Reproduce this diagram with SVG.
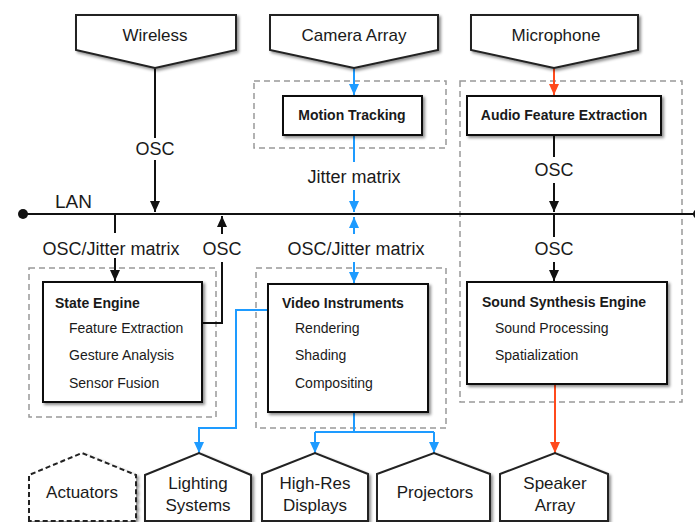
<svg xmlns="http://www.w3.org/2000/svg" width="695" height="522" viewBox="0 0 695 522">
<style>
text{font-family:"Liberation Sans",Arial,sans-serif;fill:#1a1a1a}
.node{font-size:17px;text-anchor:middle}
.lbl{font-size:18px;text-anchor:middle}
.bold{font-size:14px;font-weight:bold}
.item{font-size:14px}
.shape{fill:#fff;stroke:#222;stroke-width:2;filter:url(#sh)}
.grp{fill:none;stroke:#999;stroke-width:1.5;stroke-dasharray:6 4}
.box{fill:#fff;stroke:#111;stroke-width:2;filter:url(#sh)}
.k{fill:none;stroke:#111;stroke-width:2}
.b{fill:none;stroke:#1e9bff;stroke-width:2}
.r{fill:none;stroke:#ff4a1c;stroke-width:2}
</style>
<defs>
<filter id="sh" x="-10%" y="-10%" width="130%" height="130%">
<feDropShadow dx="2" dy="2" stdDeviation="1.5" flood-color="#000" flood-opacity="0.45"/>
</filter>
<marker id="ak" markerUnits="userSpaceOnUse" markerWidth="12" markerHeight="12" refX="11" refY="5" orient="auto"><path d="M0,0 L11,5 L0,10 z" fill="#111"/></marker>
<marker id="ab" markerUnits="userSpaceOnUse" markerWidth="12" markerHeight="12" refX="11" refY="5" orient="auto"><path d="M0,0 L11,5 L0,10 z" fill="#1e9bff"/></marker>
<marker id="ar" markerUnits="userSpaceOnUse" markerWidth="12" markerHeight="12" refX="11" refY="5" orient="auto"><path d="M0,0 L11,5 L0,10 z" fill="#ff4a1c"/></marker>
</defs>

<!-- dashed groups -->
<g id="groups">
<rect class="grp" x="254" y="81" width="192" height="67"/>
<rect class="grp" x="460" y="81" width="222" height="321"/>
<rect class="grp" x="29" y="268" width="187" height="149"/>
<rect class="grp" x="256" y="268" width="190" height="160"/>
</g>

<!-- connectors -->
<g id="connectors">
<line x1="23" y1="214" x2="695" y2="214" stroke="#111" stroke-width="2.2"/>
<circle cx="23" cy="214" r="5" fill="#111"/>
<circle cx="698" cy="214" r="5" fill="#111"/>
<path class="k" d="M155,68 V138"/>
<path class="k" d="M155,160 V212" marker-end="url(#ak)"/>
<path class="b" d="M354,68 V95" marker-end="url(#ab)"/>
<path class="b" d="M354,135 V162"/>
<path class="b" d="M354,190 V212" marker-end="url(#ab)"/>
<path class="b" d="M354,234 V217" marker-end="url(#ab)"/>
<path class="b" d="M354,262 V283" marker-end="url(#ab)"/>
<path class="r" d="M554,68 V95" marker-end="url(#ar)"/>
<path class="k" d="M554,135 V157"/>
<path class="k" d="M554,183 V212" marker-end="url(#ak)"/>
<path class="k" d="M554,214 V237"/>
<path class="k" d="M554,262 V281" marker-end="url(#ak)"/>
<path class="k" d="M115,214 V233"/>
<path class="k" d="M115,258 V281" marker-end="url(#ak)"/>
<path class="k" d="M222,234 V216" marker-end="url(#ak)"/>
<path class="k" d="M222,262 V323 H202"/>
<path class="b" d="M268,310 H236 V428 H199 V453" marker-end="url(#ab)"/>
<path class="b" d="M354,412 V432"/>
<path class="b" d="M315,432 H434"/>
<path class="b" d="M315,432 V453" marker-end="url(#ab)"/>
<path class="b" d="M434,432 V453" marker-end="url(#ab)"/>
<path class="r" d="M555,384 V453" marker-end="url(#ar)"/>
</g>

<!-- edge labels -->
<g id="labels">
<text x="55" y="208" style="font-size:19px">LAN</text>
<text class="lbl" x="155" y="155">OSC</text>
<text class="lbl" x="354" y="183">Jitter matrix</text>
<text class="lbl" x="111" y="255">OSC/Jitter matrix</text>
<text class="lbl" x="222" y="255">OSC</text>
<text class="lbl" x="356" y="255">OSC/Jitter matrix</text>
<text class="lbl" x="554" y="176">OSC</text>
<text class="lbl" x="554" y="255">OSC</text>
</g>

<!-- top input nodes -->
<g id="wireless">
<polygon class="shape" points="76,15 236,15 236,50 155,68 76,50"/>
<text class="node" x="155" y="41">Wireless</text>
</g>
<g id="camera-array">
<polygon class="shape" points="270,15 438,15 438,50 354,68 270,50"/>
<text class="node" x="354" y="41">Camera Array</text>
</g>
<g id="microphone">
<polygon class="shape" points="471,15 638,15 638,50 554,68 471,50"/>
<text class="node" x="556" y="41">Microphone</text>
</g>

<!-- processing boxes -->
<g id="motion-tracking">
<rect class="box" x="283" y="96" width="139" height="39"/>
<text class="bold" x="352" y="120" text-anchor="middle">Motion Tracking</text>
</g>
<g id="audio-feature-extraction">
<rect class="box" x="467" y="96" width="194" height="39"/>
<text class="bold" x="564" y="120" text-anchor="middle">Audio Feature Extraction</text>
</g>
<g id="state-engine">
<rect class="box" x="43" y="282" width="159" height="120"/>
<text class="bold" x="55" y="308">State Engine</text>
<text class="item" x="69" y="333">Feature Extraction</text>
<text class="item" x="69" y="360">Gesture Analysis</text>
<text class="item" x="69" y="388">Sensor Fusion</text>
</g>
<g id="video-instruments">
<rect class="box" x="268" y="284" width="160" height="128"/>
<text class="bold" x="282" y="308">Video Instruments</text>
<text class="item" x="295" y="333">Rendering</text>
<text class="item" x="295" y="360">Shading</text>
<text class="item" x="295" y="388">Compositing</text>
</g>
<g id="sound-synthesis-engine">
<rect class="box" x="467" y="282" width="200" height="102"/>
<text class="bold" x="482" y="307">Sound Synthesis Engine</text>
<text class="item" x="495" y="333">Sound Processing</text>
<text class="item" x="495" y="360">Spatialization</text>
</g>

<!-- outputs -->
<g id="actuators">
<polygon class="shape" points="29,521 29,475 82,453 136,475 136,521" style="stroke-dasharray:5 3"/>
<text class="node" x="82" y="498">Actuators</text>
</g>
<g id="lighting-systems">
<polygon class="shape" points="145,521 145,475 199,453 251,475 251,521"/>
<text class="node" x="198" y="489">Lighting</text>
<text class="node" x="198" y="511">Systems</text>
</g>
<g id="high-res-displays">
<polygon class="shape" points="262,521 262,474 315,453 368,474 368,521"/>
<text class="node" x="315" y="489">High-Res</text>
<text class="node" x="315" y="511">Displays</text>
</g>
<g id="projectors">
<polygon class="shape" points="377,521 377,474 434,453 490,474 490,521"/>
<text class="node" x="435" y="498">Projectors</text>
</g>
<g id="speaker-array">
<polygon class="shape" points="500,521 500,474 555,453 608,474 608,521"/>
<text class="node" x="555" y="489">Speaker</text>
<text class="node" x="555" y="511">Array</text>
</g>
</svg>
